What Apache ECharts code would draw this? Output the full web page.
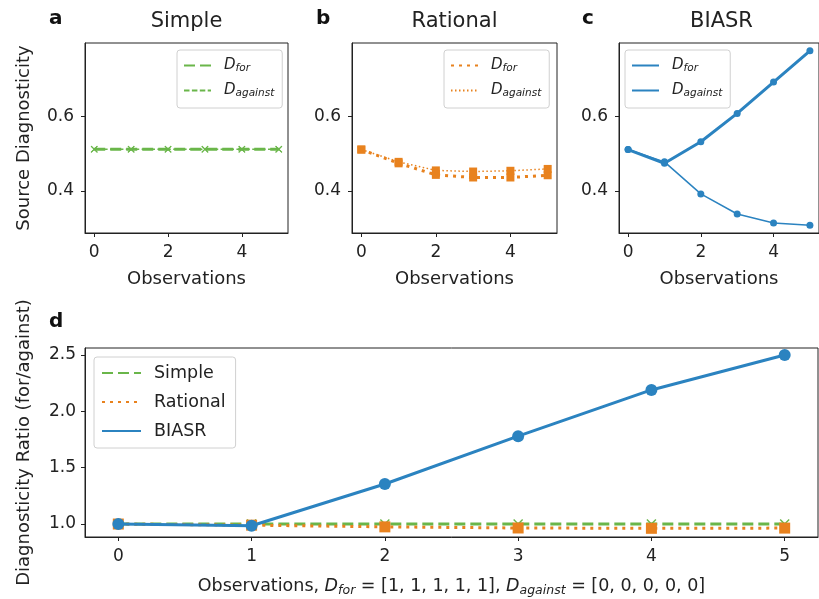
<!DOCTYPE html>
<html><head><meta charset="utf-8">
<script src="https://cdn.jsdelivr.net/npm/echarts@6/dist/echarts.min.js"></script>
<style>html,body{margin:0;padding:0;background:#fff}#c{width:819px;height:599px}</style>
</head><body><div id="c"></div>
<script>
// ---- data ----
const observations = [0, 1, 2, 3, 4, 5];
const simpleFor = [0.512, 0.512, 0.512, 0.512, 0.512, 0.512];
const simpleAgainst = [0.512, 0.512, 0.512, 0.512, 0.512, 0.512];
const rationalFor = [0.511, 0.474, 0.443, 0.436, 0.436, 0.442];
const rationalAgainst = [0.511, 0.478, 0.455, 0.452, 0.454, 0.459];
const biasrFor = [0.511, 0.474, 0.532, 0.608, 0.692, 0.776];
const biasrAgainst = [0.511, 0.478, 0.392, 0.338, 0.314, 0.308];
const simpleRatio = [1.0, 1.0, 1.0, 1.0, 1.0, 1.0];
const rationalRatio = [1.0, 0.99, 0.975, 0.965, 0.962, 0.964];
const biasrRatio = [1.0, 0.985, 1.355, 1.78, 2.19, 2.5];
const topXTicks = [0, 2, 4];
const topYTicks = [0.4, 0.6];
const bottomXTicks = [0, 1, 2, 3, 4, 5];
const bottomYTicks = [1.0, 1.5, 2.0, 2.5];
const panelTitles = ['Simple', 'Rational', 'BIASR'];
const panelLetters = ['a', 'b', 'c', 'd'];

// ---- style ----
const FONT = 'DejaVu Sans';
const TXT = '#222';
const GREEN = '#6ab64a', ORANGE = '#e8821e', BLUE = '#2b83c0';
const XSYM = 'path://M1,0 L5,4 L9,0 L10,1 L6,5 L10,9 L9,10 L5,6 L1,10 L0,9 L4,5 L0,1 Z';

const chart = echarts.init(document.getElementById('c'), null, {renderer: 'canvas'});

const grids = [
  {left: 85, top: 43, width: 203, height: 190},
  {left: 352, top: 43, width: 205, height: 190},
  {left: 619, top: 43, width: 205, height: 190},
  {left: 85, top: 348, width: 733, height: 189}
].map(g => Object.assign({show: true, borderColor: TXT, borderWidth: 1, backgroundColor: 'transparent'}, g));

const subRich = {
  n: {fontFamily: FONT, fontSize: 17.5, color: TXT},
  d: {fontFamily: FONT, fontSize: 17.5, fontStyle: 'italic', color: TXT},
  s: {fontFamily: FONT, fontSize: 12.5, fontStyle: 'italic', color: TXT, padding: [8, 0, 0, 0]}
};

function xAxis(gi, ticks, name, extra) {
  return Object.assign({
    type: 'value', gridIndex: gi, min: -0.25, max: 5.25,
    axisLine: {show: true, onZero: false, lineStyle: {color: TXT, width: 1}}, splitLine: {show: false},
    axisTick: {show: true, length: 4, customValues: ticks, lineStyle: {color: TXT}},
    axisLabel: {customValues: ticks, color: TXT, fontSize: 17, fontFamily: FONT, margin: 11},
    name: name, nameLocation: 'middle', nameGap: 37, nameMoveOverlap: false,
    nameTextStyle: {color: TXT, fontSize: 18, fontFamily: FONT}
  }, extra || {});
}
function yAxis(gi, ticks, min, max, name, margin) {
  return {
    type: 'value', gridIndex: gi, min: min, max: max,
    axisLine: {show: true, onZero: false, lineStyle: {color: TXT, width: 1}}, splitLine: {show: false},
    axisTick: {show: true, length: 4, customValues: ticks, lineStyle: {color: TXT}},
    axisLabel: {customValues: ticks, color: TXT, fontSize: 17, fontFamily: FONT, margin: margin,
      formatter: v => Number(v).toFixed(1)},
    name: name || '', nameLocation: 'middle', nameGap: 52, nameMoveOverlap: false,
    nameTextStyle: {color: TXT, fontSize: 18, fontFamily: FONT}
  };
}

function pts(arr) { return observations.map((x, i) => [x, arr[i]]); }
function line(name, gi, arr, color, width, type, symbol, size, z) {
  return {
    type: 'line', name: name, xAxisIndex: gi, yAxisIndex: gi, data: pts(arr),
    symbol: symbol, symbolSize: size, showSymbol: true, animation: false, z: z || 2,
    lineStyle: {color: color, width: width, type: type, cap: 'butt'},
    itemStyle: {color: color, borderWidth: 0},
    emphasis: {disabled: true}
  };
}

const legendNames = {
  a_for: '{d|D}{s|for}', a_against: '{d|D}{s|against}',
  b_for: '{d|D}{s|for}', b_against: '{d|D}{s|against}',
  c_for: '{d|D}{s|for}', c_against: '{d|D}{s|against}',
  Simple: 'Simple', Rational: 'Rational', BIASR: 'BIASR'
};
const legRich = {
  d: {fontFamily: FONT, fontSize: 15, fontStyle: 'italic', color: TXT},
  s: {fontFamily: FONT, fontSize: 10.5, fontStyle: 'italic', color: TXT, padding: [6, 0, 0, 0]}
};
function topLegend(left, names) {
  return {
    data: names, left: left, top: 50, orient: 'vertical',
    itemWidth: 27, itemHeight: 14, itemGap: 9,
    padding: [8, 8, 9, 6],
    backgroundColor: '#fff', borderColor: '#d0d0d0', borderWidth: 1, borderRadius: 3,
    itemStyle: {opacity: 0},
    formatter: n => legendNames[n],
    textStyle: {color: TXT, fontFamily: FONT, fontSize: 15, padding: [0, 0, 0, 8], rich: legRich},
    selectedMode: false
  };
}

const option = {
  backgroundColor: '#fff',
  animation: false,
  textStyle: {fontFamily: FONT},
  grid: grids,
  xAxis: [
    xAxis(0, topXTicks, 'Observations'),
    xAxis(1, topXTicks, 'Observations'),
    xAxis(2, topXTicks, 'Observations'),
    xAxis(3, bottomXTicks,
      '{n|Observations, }{d|D}{s|for}{n| = [1, 1, 1, 1, 1], }{d|D}{s|against}{n| = [0, 0, 0, 0, 0]}',
      {nameGap: 39, nameTextStyle: {color: TXT, fontSize: 17.5, fontFamily: FONT, rich: subRich}})
  ],
  yAxis: [
    yAxis(0, topYTicks, 0.287, 0.797, 'Source Diagnosticity', 11),
    yAxis(1, topYTicks, 0.287, 0.797, '', 11),
    yAxis(2, topYTicks, 0.287, 0.797, '', 11),
    yAxis(3, bottomYTicks, 0.885, 2.562, 'Diagnosticity Ratio (for/against)', 9)
  ],
  legend: [
    topLegend(177, ['a_for', 'a_against']),
    topLegend(444, ['b_for', 'b_against']),
    topLegend(625, ['c_for', 'c_against']),
    {
      data: ['Simple', 'Rational', 'BIASR'], left: 94, top: 357, orient: 'vertical',
      itemWidth: 39, itemHeight: 16, itemGap: 11,
      padding: [7, 10, 8, 7],
      backgroundColor: '#fff', borderColor: '#d0d0d0', borderWidth: 1, borderRadius: 3,
      itemStyle: {opacity: 0},
      textStyle: {color: TXT, fontFamily: FONT, fontSize: 17.5, padding: [0, 0, 0, 8]},
      selectedMode: false
    }
  ],
  series: [
    line('a_for', 0, simpleFor, GREEN, 3, [11, 5], XSYM, 7),
    line('a_against', 0, simpleAgainst, GREEN, 1.5, [5.5, 2.4], XSYM, 7),
    line('b_for', 1, rationalFor, ORANGE, 3, [3, 5], 'rect', 8),
    line('b_against', 1, rationalAgainst, ORANGE, 1.5, [1.5, 2.5], 'rect', 8),
    line('c_for', 2, biasrFor, BLUE, 3, 'solid', 'circle', 7),
    line('c_against', 2, biasrAgainst, BLUE, 1.5, 'solid', 'circle', 7),
    line('Simple', 3, simpleRatio, GREEN, 3, [11, 5], XSYM, 10, 2),
    line('Rational', 3, rationalRatio, ORANGE, 3, [3, 5], 'rect', 11, 3),
    line('BIASR', 3, biasrRatio, BLUE, 3, 'solid', 'circle', 12, 4)
  ],
  graphic: [
    {type: 'text', x: 186.5, y: 11, style: {text: panelTitles[0], fontSize: 21, fontFamily: FONT, fill: TXT, align: 'center'}},
    {type: 'text', x: 454.5, y: 11, style: {text: panelTitles[1], fontSize: 21, fontFamily: FONT, fill: TXT, align: 'center'}},
    {type: 'text', x: 721.5, y: 11, style: {text: panelTitles[2], fontSize: 21, fontFamily: FONT, fill: TXT, align: 'center'}},
    {type: 'text', x: 49, y: 9, style: {text: panelLetters[0], fontSize: 20, fontWeight: 'bold', fontFamily: FONT, fill: '#111'}},
    {type: 'text', x: 316, y: 9, style: {text: panelLetters[1], fontSize: 20, fontWeight: 'bold', fontFamily: FONT, fill: '#111'}},
    {type: 'text', x: 582, y: 9, style: {text: panelLetters[2], fontSize: 20, fontWeight: 'bold', fontFamily: FONT, fill: '#111'}},
    {type: 'text', x: 49, y: 312, style: {text: panelLetters[3], fontSize: 20, fontWeight: 'bold', fontFamily: FONT, fill: '#111'}}
  ]
};
chart.setOption(option);
</script></body></html>
